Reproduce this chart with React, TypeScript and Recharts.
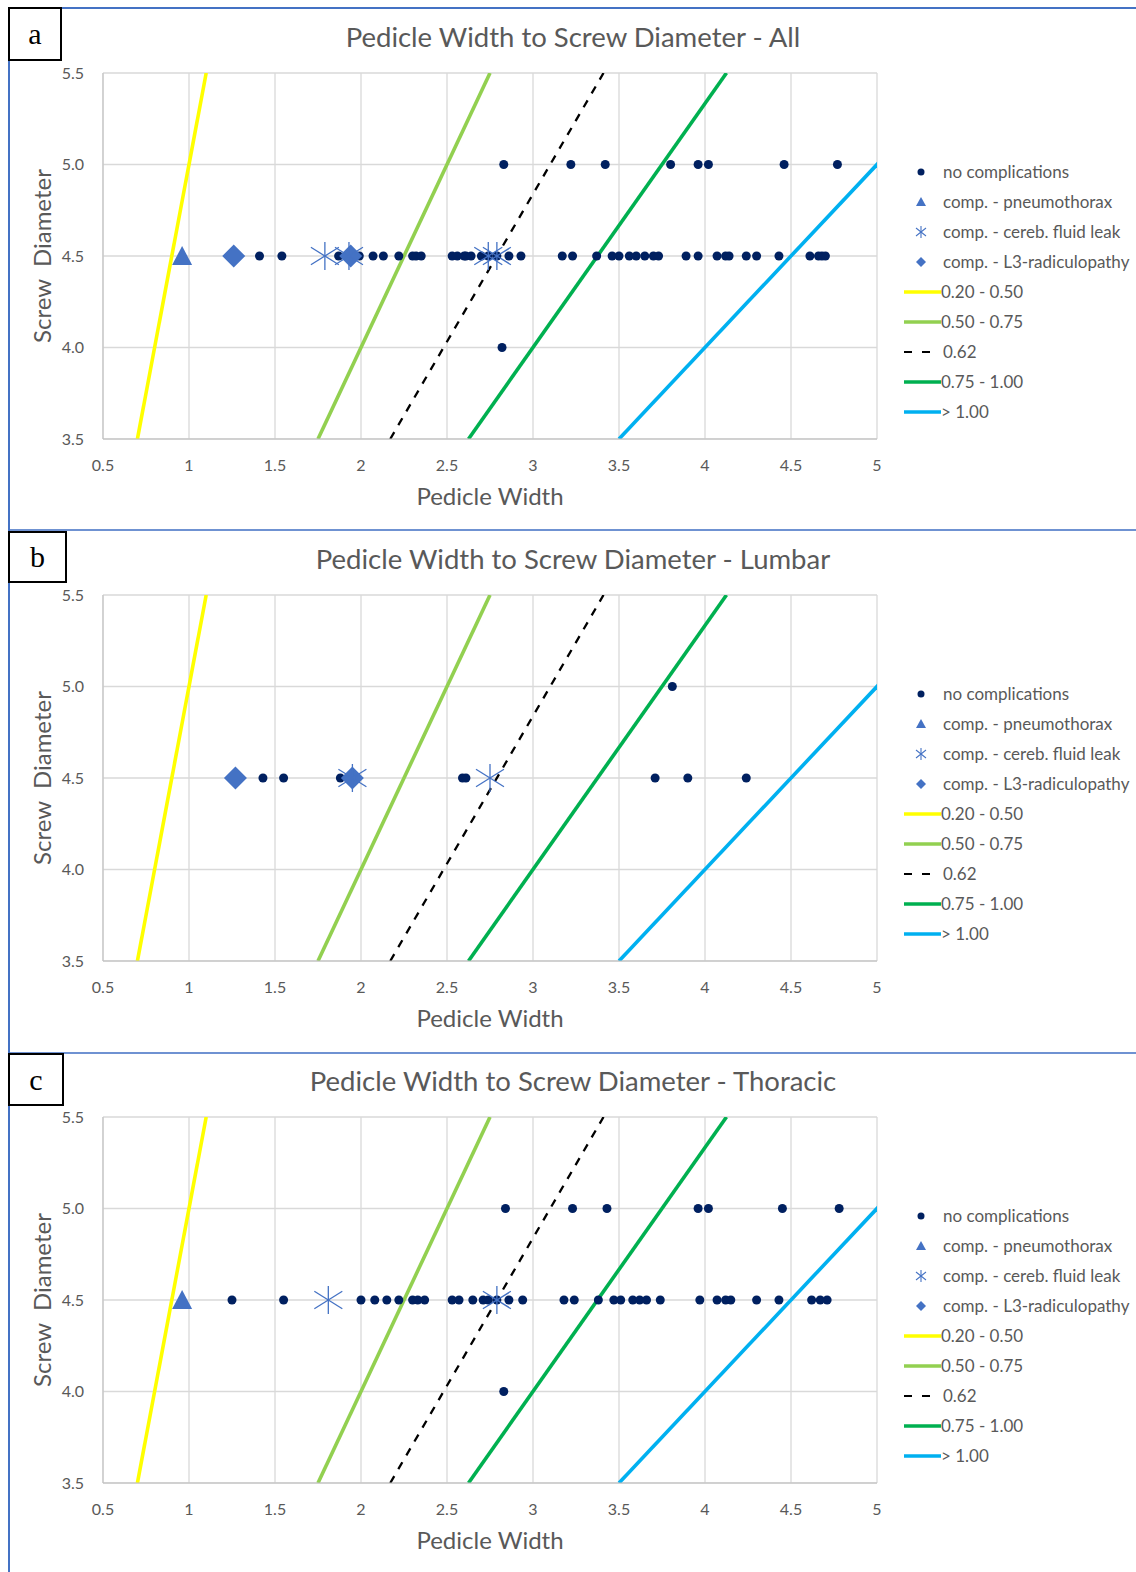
import { ScatterChart, Scatter, XAxis, YAxis, CartesianGrid, ReferenceLine } from "recharts";

// pedicle width values (x) grouped by screw diameter (y)
const ALL_NONE_40 = [2.82];
const ALL_NONE_45 = [
  1.41, 1.54, 1.87, 1.99, 2.07, 2.13, 2.22, 2.3, 2.32, 2.35, 2.53, 2.56, 2.6, 2.61, 2.64, 2.7, 2.74, 2.79,
  2.86, 2.93, 3.17, 3.23, 3.37, 3.46, 3.5, 3.56, 3.6, 3.65, 3.7, 3.73, 3.89, 3.96, 4.07, 4.12, 4.14, 4.24,
  4.3, 4.43, 4.61, 4.66, 4.68, 4.7,
];
const ALL_NONE_50 = [2.83, 3.22, 3.42, 3.8, 3.96, 4.02, 4.46, 4.77];
const ALL_PNEUMO = [0.96];
const ALL_CSF = [1.79, 1.93, 2.74, 2.79];
const ALL_L3 = [1.26, 1.94];

const LUM_NONE_40: number[] = [];
const LUM_NONE_45 = [1.43, 1.55, 1.88, 2.59, 2.61, 3.71, 3.9, 4.24];
const LUM_NONE_50 = [3.81];
const LUM_PNEUMO: number[] = [];
const LUM_CSF = [1.95, 2.75];
const LUM_L3 = [1.27, 1.95];

const THO_NONE_40 = [2.83];
const THO_NONE_45 = [
  1.25, 1.55, 2.0, 2.08, 2.15, 2.22, 2.3, 2.33, 2.37, 2.53, 2.57, 2.65, 2.71, 2.74, 2.79, 2.86, 2.94, 3.18,
  3.24, 3.38, 3.47, 3.51, 3.58, 3.62, 3.66, 3.74, 3.97, 4.07, 4.12, 4.15, 4.3, 4.43, 4.62, 4.67, 4.71,
];
const THO_NONE_50 = [2.84, 3.23, 3.43, 3.96, 4.02, 4.45, 4.78];
const THO_PNEUMO = [0.96];
const THO_CSF = [1.81, 2.79];
const THO_L3: number[] = [];

const X_TICKS = [0.5, 1, 1.5, 2, 2.5, 3, 3.5, 4, 4.5, 5];
const Y_TICKS = [3.5, 4, 4.5, 5, 5.5];

const RATIOS = [0.2, 0.5, 0.62, 0.75, 1.0];
const RATIO_LABELS = ["0.20 - 0.50", "0.50 - 0.75", "0.62", "0.75 - 1.00", "> 1.00"];
const RATIO_COLORS = ["#FFFF00", "#92D050", "#000000", "#00B050", "#00B0F0"];

const SERIES_LABELS = [
  "no complications",
  "comp. - pneumothorax",
  "comp. - cereb. fluid leak",
  "comp. - L3-radiculopathy",
];

const NAVY = "#002060";
const BLUE = "#4472C4";
const GREY = "#595959";
const FONT = "Lato, 'Open Sans', sans-serif";

const at = (xs: number[], y: number) => xs.map((x) => ({ x, y }));

function Dot(p: any) {
  return <circle cx={p.cx} cy={p.cy} r={4.5} fill={NAVY} />;
}
function Tri(p: any) {
  const { cx, cy } = p;
  return <polygon points={`${cx},${cy - 10} ${cx + 10},${cy + 9} ${cx - 10},${cy + 9}`} fill={BLUE} />;
}
function Diamond(p: any) {
  const { cx, cy } = p;
  return <polygon points={`${cx},${cy - 11.5} ${cx + 11.5},${cy} ${cx},${cy + 11.5} ${cx - 11.5},${cy}`} fill={BLUE} />;
}
function Star(p: any) {
  const { cx, cy } = p;
  const s = 14;
  return (
    <g stroke={BLUE} strokeWidth={1.3}>
      <line x1={cx} y1={cy - s} x2={cx} y2={cy + s} />
      <line x1={cx - s} y1={cy - s * 0.62} x2={cx + s} y2={cy + s * 0.62} />
      <line x1={cx - s} y1={cy + s * 0.62} x2={cx + s} y2={cy - s * 0.62} />
    </g>
  );
}

function LegendBox() {
  const rows = [...SERIES_LABELS, ...RATIO_LABELS];
  return (
    <svg width={240} height={280} style={{ position: "absolute", left: 896, top: 157 }}>
      {rows.map((label, i) => {
        const y = 15 + i * 30;
        let mark = null;
        if (i === 0) mark = <circle cx={25} cy={y} r={3.5} fill={NAVY} />;
        if (i === 1) mark = <polygon points={`25,${y - 5} 30,${y + 4} 20,${y + 4}`} fill={BLUE} />;
        if (i === 2)
          mark = (
            <g stroke={BLUE} strokeWidth={1.1}>
              <line x1={25} y1={y - 6} x2={25} y2={y + 6} />
              <line x1={20} y1={y - 4} x2={30} y2={y + 4} />
              <line x1={20} y1={y + 4} x2={30} y2={y - 4} />
            </g>
          );
        if (i === 3) mark = <polygon points={`25,${y - 5} 30,${y} 25,${y + 5} 20,${y}`} fill={BLUE} />;
        if (i >= 4) {
          const k = i - 4;
          mark = (
            <line
              x1={8}
              x2={k === 2 ? 40 : 45}
              y1={y}
              y2={y}
              stroke={RATIO_COLORS[k]}
              strokeWidth={k === 2 ? 2.2 : 3.5}
              strokeDasharray={k === 2 ? "8 10" : undefined}
            />
          );
        }
        return (
          <g key={label}>
            {mark}
            <text x={i >= 4 && i !== 6 ? 45 : 47} y={y + 5.5} fontSize={17} fill={GREY} fontFamily={FONT}>
              {label}
            </text>
          </g>
        );
      })}
    </svg>
  );
}

type PanelProps = {
  top: number;
  title: string;
  letter: string;
  box: { top: number; w: number; h: number };
  none40: number[];
  none45: number[];
  none50: number[];
  pneumo: number[];
  csf: number[];
  l3: number[];
};

function Panel(p: PanelProps) {
  const dots = [...at(p.none50, 5), ...at(p.none45, 4.5), ...at(p.none40, 4)];
  return (
    <div style={{ position: "absolute", left: 0, top: p.top, width: 1136, height: 522, fontFamily: FONT }}>
      <ScatterChart width={1136} height={522} margin={{ top: 73, right: 259, bottom: 53, left: 43 }}>
        <CartesianGrid stroke="#d9d9d9" strokeWidth={1.3} />
        <XAxis
          type="number"
          dataKey="x"
          domain={[0.5, 5]}
          ticks={X_TICKS}
          allowDataOverflow
          height={30}
          tickLine={false}
          tickMargin={15}
          stroke="#bfbfbf"
          tick={{ fill: GREY, fontSize: 16, fontFamily: FONT }}
        />
        <YAxis
          type="number"
          dataKey="y"
          domain={[3.5, 5.5]}
          ticks={Y_TICKS}
          allowDataOverflow
          width={60}
          tickLine={false}
          tickMargin={13}
          stroke="#bfbfbf"
          tickFormatter={(v: number) => v.toFixed(1)}
          tick={{ fill: GREY, fontSize: 16, fontFamily: FONT }}
        />
        {RATIOS.map((r, i) => (
          <ReferenceLine
            key={r}
            segment={[
              { x: r * 3.5, y: 3.5 },
              { x: r * 5.5, y: 5.5 },
            ]}
            ifOverflow="hidden"
            stroke={RATIO_COLORS[i]}
            strokeWidth={i === 2 ? 2.3 : 3.6}
            strokeDasharray={i === 2 ? "8 8" : undefined}
          />
        ))}
        <Scatter name={SERIES_LABELS[0]} data={dots} shape={Dot} isAnimationActive={false} />
        <Scatter name={SERIES_LABELS[1]} data={at(p.pneumo, 4.5)} shape={Tri} isAnimationActive={false} />
        <Scatter name={SERIES_LABELS[3]} data={at(p.l3, 4.5)} shape={Diamond} isAnimationActive={false} />
        <Scatter name={SERIES_LABELS[2]} data={at(p.csf, 4.5)} shape={Star} isAnimationActive={false} />
      </ScatterChart>
      <div
        style={{
          position: "absolute",
          left: 0,
          width: 1146,
          top: 21,
          textAlign: "center",
          fontSize: 27.5,
          color: GREY,
          lineHeight: "32px",
        }}
      >
        {p.title}
      </div>
      <div
        style={{
          position: "absolute",
          left: 103,
          width: 774,
          top: 481,
          textAlign: "center",
          fontSize: 24,
          color: GREY,
          lineHeight: "30px",
        }}
      >
        Pedicle Width
      </div>
      <div
        style={{
          position: "absolute",
          left: 42 - 120,
          top: 256 - 15,
          width: 240,
          textAlign: "center",
          fontSize: 24,
          color: GREY,
          lineHeight: "30px",
          whiteSpace: "pre",
          transform: "rotate(-90deg)",
        }}
      >
        {"Screw  Diameter"}
      </div>
      <LegendBox />
      <div
        style={{
          position: "absolute",
          left: 8,
          top: p.box.top,
          width: p.box.w - 4,
          height: p.box.h - 4,
          border: "2px solid #000",
          background: "#fff",
          fontFamily: "'Liberation Serif', 'Times New Roman', serif",
          fontSize: 30,
          display: "flex",
          alignItems: "center",
          justifyContent: "center",
        }}
      >
        {p.letter}
      </div>
    </div>
  );
}

export default function App() {
  return (
    <div style={{ position: "absolute", left: 0, top: 0, width: 1136, height: 1572, background: "#fff", overflow: "hidden" }}>
      <div style={{ position: "absolute", left: 9, top: 7, width: 1127, height: 2, background: BLUE }} />
      <div style={{ position: "absolute", left: 9, top: 529, width: 1127, height: 2, background: "#6f92d2" }} />
      <div style={{ position: "absolute", left: 9, top: 1052, width: 1127, height: 2, background: "#6f92d2" }} />
      <div style={{ position: "absolute", left: 8, top: 7, width: 1.5, height: 1565, background: BLUE }} />
      <Panel
        top={0}
        title="Pedicle Width to Screw Diameter - All"
        letter="a"
        box={{ top: 7, w: 54, h: 54 }}
        none40={ALL_NONE_40}
        none45={ALL_NONE_45}
        none50={ALL_NONE_50}
        pneumo={ALL_PNEUMO}
        csf={ALL_CSF}
        l3={ALL_L3}
      />
      <Panel
        top={522}
        title="Pedicle Width to Screw Diameter - Lumbar"
        letter="b"
        box={{ top: 9, w: 59, h: 52 }}
        none40={LUM_NONE_40}
        none45={LUM_NONE_45}
        none50={LUM_NONE_50}
        pneumo={LUM_PNEUMO}
        csf={LUM_CSF}
        l3={LUM_L3}
      />
      <Panel
        top={1044}
        title="Pedicle Width to Screw Diameter - Thoracic"
        letter="c"
        box={{ top: 9, w: 56, h: 53 }}
        none40={THO_NONE_40}
        none45={THO_NONE_45}
        none50={THO_NONE_50}
        pneumo={THO_PNEUMO}
        csf={THO_CSF}
        l3={THO_L3}
      />
    </div>
  );
}
